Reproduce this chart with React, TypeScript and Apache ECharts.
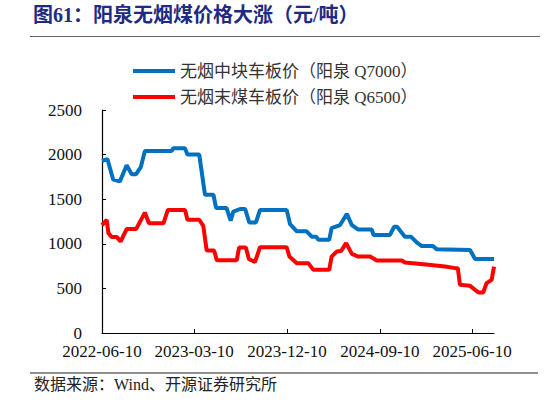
import React, { useEffect, useRef } from 'react';
import * as echarts from 'echarts';

const seriesNames = ['无烟中块车板价（阳泉 Q7000）', '无烟末煤车板价（阳泉 Q6500）'];

const blockDates = [
  '2022-06-10', '2022-06-26', '2022-07-13', '2022-08-02', '2022-08-22', '2022-09-06',
  '2022-09-19', '2022-10-03', '2022-10-15', '2023-01-02', '2023-01-07', '2023-02-11',
  '2023-02-18', '2023-03-25', '2023-04-11', '2023-05-06', '2023-05-14', '2023-06-14',
  '2023-06-26', '2023-07-04', '2023-07-24', '2023-08-08', '2023-08-20', '2023-09-09',
  '2023-09-21', '2023-12-09', '2023-12-19', '2024-01-08', '2024-02-06', '2024-02-21',
  '2024-03-05', '2024-03-12', '2024-04-13', '2024-04-20', '2024-05-15', '2024-06-04',
  '2024-06-19', '2024-07-08', '2024-08-17', '2024-08-22', '2024-10-10', '2024-10-22',
  '2024-10-31', '2024-11-23', '2024-12-11', '2024-12-28', '2025-01-12', '2025-02-14',
  '2025-02-25', '2025-06-04', '2025-06-19', '2025-08-14',
];
const blockValues = [
  1930, 1950, 1720, 1700, 1880, 1780,
  1780, 1860, 2040, 2040, 2070, 2070,
  2000, 2000, 1550, 1550, 1400, 1400,
  1260, 1360, 1390, 1390, 1240, 1240,
  1380, 1380, 1220, 1140, 1140, 1080,
  1080, 1045, 1045, 1175, 1210, 1335,
  1210, 1160, 1160, 1100, 1100, 1190,
  1190, 1080, 1080, 1015, 975, 975,
  940, 930, 830, 830,
];

const fineDates = [
  '2022-06-10', '2022-06-24', '2022-06-29', '2022-07-09', '2022-07-24', '2022-08-04',
  '2022-08-22', '2022-09-19', '2022-10-15', '2022-10-27', '2022-12-09', '2022-12-22',
  '2023-02-11', '2023-02-18', '2023-03-25', '2023-04-06', '2023-04-16', '2023-05-08',
  '2023-05-16', '2023-07-14', '2023-07-21', '2023-08-10', '2023-08-19', '2023-09-06',
  '2023-09-21', '2023-12-09', '2023-12-17', '2024-01-08', '2024-02-11', '2024-02-26',
  '2024-04-13', '2024-04-20', '2024-05-05', '2024-05-18', '2024-06-02', '2024-06-19',
  '2024-07-08', '2024-08-12', '2024-09-01', '2024-11-14', '2024-11-23', '2025-01-17',
  '2025-03-22', '2025-04-21', '2025-04-29', '2025-05-05', '2025-06-04', '2025-06-29',
  '2025-07-13', '2025-07-23', '2025-08-07', '2025-08-14',
];
const fineValues = [
  1210, 1268, 1120, 1075, 1075, 1025,
  1165, 1165, 1350, 1230, 1230, 1380,
  1380, 1270, 1270, 1200, 925, 925,
  815, 815, 958, 958, 830, 795,
  962, 962, 857, 783, 783, 708,
  708, 857, 913, 918, 1007, 887,
  857, 857, 813, 813, 790, 772,
  746, 727, 727, 540, 529, 454,
  454, 559, 596, 745,
];

const xTickLabels = ['2022-06-10', '2023-03-10', '2023-12-10', '2024-09-10', '2025-06-10'];
const xStart = '2022-06-10';
const xEnd = '2025-08-14';

const toTime = (s: string) => {
  const [y, m, d] = s.split('-').map(Number);
  return new Date(y, m - 1, d).getTime();
};
const pad = (n: number) => (n < 10 ? '0' + n : '' + n);

const serif = "'Liberation Serif', 'Noto Sans CJK SC', serif";

const App = () => {
  const chartRef = useRef<HTMLDivElement>(null);

  useEffect(() => {
    document.body.style.margin = '0';
    if (!chartRef.current) return;
    const myChart = echarts.init(chartRef.current, null, { renderer: 'svg' });
    const tickTimes = xTickLabels.map(toTime);
    myChart.setOption({
      animation: false,
      backgroundColor: '#fff',
      textStyle: { fontFamily: serif },
      legend: {
        orient: 'vertical',
        left: 128,
        top: 56,
        icon: 'rect',
        itemWidth: 42,
        itemHeight: 4,
        itemGap: 6,
        textStyle: { fontSize: 17, color: '#333', fontFamily: serif, lineHeight: 20 },
        data: seriesNames,
      },
      grid: { left: 102, right: 52, top: 110, bottom: 69 },
      xAxis: {
        type: 'value',
        min: toTime(xStart),
        max: toTime(xEnd),
        axisLine: { lineStyle: { color: '#000', width: 1.2 } },
        axisTick: { inside: true, length: 4, customValues: tickTimes, lineStyle: { color: '#000' } },
        axisLabel: {
          customValues: tickTimes,
          fontSize: 17,
          color: '#111',
          margin: 10,
          fontFamily: serif,
          formatter: (v: number) => {
            const d = new Date(v);
            return d.getFullYear() + '-' + pad(d.getMonth() + 1) + '-' + pad(d.getDate());
          },
        },
        splitLine: { show: false },
      },
      yAxis: {
        type: 'value',
        min: 0,
        max: 2500,
        interval: 500,
        axisLine: { show: true, lineStyle: { color: '#000', width: 1.2 } },
        axisTick: { show: true, inside: true, length: 4, lineStyle: { color: '#000' } },
        axisLabel: {
          fontSize: 17,
          color: '#111',
          margin: 20,
          fontFamily: serif,
          formatter: (v: number) => String(v),
        },
        splitLine: { show: false },
      },
      series: [
        {
          name: seriesNames[0],
          type: 'line',
          symbol: 'none',
          lineStyle: { color: '#0070C0', width: 4 },
          itemStyle: { color: '#0070C0' },
          data: blockDates.map((d, i) => [toTime(d), blockValues[i]]),
        },
        {
          name: seriesNames[1],
          type: 'line',
          symbol: 'none',
          lineStyle: { color: '#FF0000', width: 4 },
          itemStyle: { color: '#FF0000' },
          data: fineDates.map((d, i) => [toTime(d), fineValues[i]]),
        },
      ],
      graphic: [
        {
          type: 'text',
          left: 33,
          top: 5,
          style: {
            text: '图61：阳泉无烟煤价格大涨（元/吨）',
            fontSize: 20,
            fontWeight: 'bold',
            fill: '#1f2a80',
            fontFamily: serif,
          },
        },
        {
          type: 'line',
          shape: { x1: 30, y1: 36.5, x2: 540, y2: 36.5 },
          style: { stroke: '#666', lineWidth: 1 },
        },
        {
          type: 'line',
          shape: { x1: 30, y1: 373, x2: 538, y2: 373 },
          style: { stroke: '#222', lineWidth: 1 },
        },
        {
          type: 'text',
          left: 34,
          top: 376,
          style: {
            text: '数据来源：Wind、开源证券研究所',
            fontSize: 16,
            fill: '#222',
            fontFamily: serif,
          },
        },
      ],
    });
    return () => {
      myChart.dispose();
    };
  }, []);

  return <div ref={chartRef} style={{ width: 546, height: 402 }}></div>;
};

export default App;
